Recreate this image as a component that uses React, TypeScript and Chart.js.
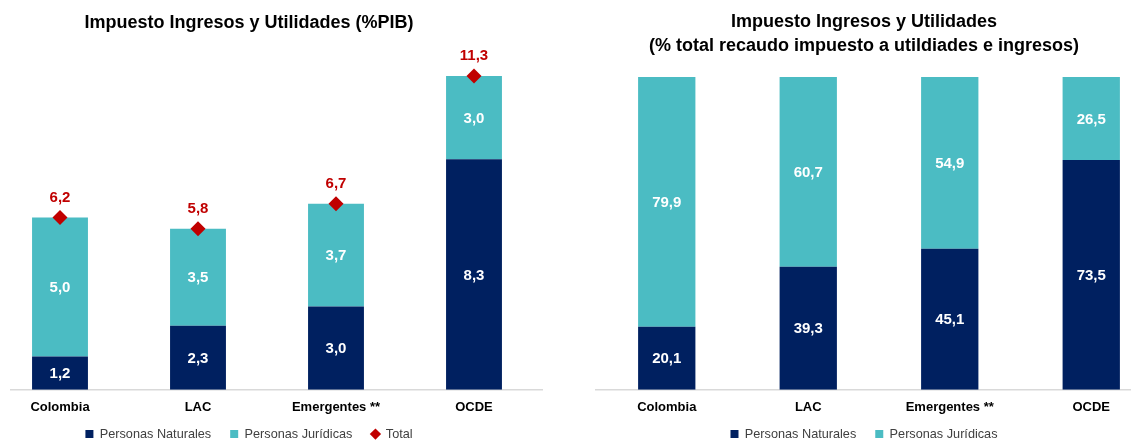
import React, { useEffect, useRef } from 'react';
import { Chart, registerables } from 'chart.js';

Chart.register(...registerables);

const categories = ['Colombia', 'LAC', 'Emergentes **', 'OCDE'];
const pibNaturales = [1.2, 2.3, 3.0, 8.3];
const pibJuridicas = [5.0, 3.5, 3.7, 3.0];
const pibTotal = [6.2, 5.8, 6.7, 11.3];
const shareNaturales = [20.1, 39.3, 45.1, 73.5];
const shareJuridicas = [79.9, 60.7, 54.9, 26.5];

const leftTitle = 'Impuesto Ingresos y Utilidades (%PIB)';
const rightTitle = ['Impuesto Ingresos y Utilidades', '(% total recaudo impuesto a utildiades e ingresos)'];
const legendNaturales = 'Personas Naturales';
const legendJuridicas = 'Personas Jurídicas';
const legendTotal = 'Total';

const NAVY = '#002060';
const TEAL = '#4bbcc3';
const RED = '#c00000';
const FONT = "'Liberation Sans', Arial, sans-serif";
const CANVAS_H = 467;
const LEGEND_SHIFT = 16.6;

const fmt = (v: number) => v.toFixed(1).replace('.', ',');

const labelPlugin = {
  id: 'valueLabels',
  afterLayout(chart: any) {
    const lg = chart.legend;
    if (lg) {
      lg.top -= LEGEND_SHIFT;
      lg.bottom -= LEGEND_SHIFT;
    }
  },
  afterDatasetsDraw(chart: any) {
    const ctx = chart.ctx;
    ctx.save();
    ctx.textAlign = 'center';
    ctx.textBaseline = 'middle';
    ctx.font = `bold 15px ${FONT}`;
    chart.data.datasets.forEach((ds: any, i: number) => {
      const meta = chart.getDatasetMeta(i);
      if (meta.hidden) return;
      meta.data.forEach((el: any, j: number) => {
        const v = ds.data[j] as number;
        if (meta.type === 'bar') {
          const p = el.getProps(['x', 'y', 'base'], true);
          ctx.fillStyle = '#ffffff';
          ctx.fillText(fmt(v), p.x, (p.y + p.base) / 2 + 1);
        } else {
          ctx.fillStyle = RED;
          ctx.fillText(fmt(v), el.x, el.y - 20);
        }
      });
    });
    ctx.restore();
  },
};

function barDataset(label: string, data: number[], color: string) {
  return {
    type: 'bar' as const,
    label,
    data,
    backgroundColor: color,
    borderWidth: 0,
    barPercentage: 0.405,
    categoryPercentage: 1,
    pointStyle: 'rect',
    order: 1,
  };
}

function makeConfig(datasets: any[], title: any, max: number, axisWidth: number, titlePad: any, titleLineHeight: number) {
  return {
    type: 'bar' as const,
    data: { labels: categories, datasets },
    plugins: [labelPlugin],
    options: {
      responsive: false,
      animation: false,
      devicePixelRatio: 1,
      events: [],
      layout: { padding: 0, autoPadding: false },
      plugins: {
        title: {
          display: true,
          text: title,
          color: '#000000',
          font: { family: FONT, size: 18, weight: 'bold', lineHeight: titleLineHeight },
          padding: titlePad,
        },
        legend: {
          display: true,
          position: 'bottom',
          labels: {
            usePointStyle: true,
            boxWidth: 8,
            boxHeight: 8,
            padding: 19,
            color: '#404040',
            font: { family: FONT, size: 12.7 },
            sort: (a: any, b: any) => a.datasetIndex - b.datasetIndex,
          },
        },
        tooltip: { enabled: false },
      },
      scales: {
        x: {
          stacked: true,
          grid: { display: false, drawTicks: false },
          border: { display: true, color: '#d9d9d9', width: 1.5 },
          ticks: {
            color: '#000000',
            font: { family: FONT, size: 13, weight: 'bold' },
            padding: 10,
            maxRotation: 0,
            autoSkip: false,
          },
        },
        y: {
          stacked: true,
          min: 0,
          max,
          display: true,
          grid: { display: false, drawTicks: false },
          border: { display: false },
          ticks: { display: false },
          afterFit: (s: any) => { s.width = axisWidth; },
        },
      },
    },
  };
}

export default function App() {
  const leftRef = useRef<HTMLCanvasElement>(null);
  const rightRef = useRef<HTMLCanvasElement>(null);

  useEffect(() => {
    const left = new Chart(leftRef.current as HTMLCanvasElement, makeConfig(
      [
        barDataset(legendNaturales, pibNaturales, NAVY),
        barDataset(legendJuridicas, pibJuridicas, TEAL),
        {
          type: 'line' as const,
          label: legendTotal,
          data: pibTotal,
          showLine: false,
          pointStyle: 'rectRot',
          pointRadius: 7.5,
          pointBorderWidth: 0,
          backgroundColor: RED,
          borderColor: RED,
          order: 0,
        },
      ],
      leftTitle, 12, 36, { top: 12.2, bottom: 22.7 }, 1.2,
    ) as any);
    const right = new Chart(rightRef.current as HTMLCanvasElement, makeConfig(
      [
        barDataset(legendNaturales, shareNaturales, NAVY),
        barDataset(legendJuridicas, shareJuridicas, TEAL),
      ],
      rightTitle, 105, 30, { top: 11, bottom: 4.3 }, 1.28,
    ) as any);
    return () => { left.destroy(); right.destroy(); };
  }, []);

  return (
    <div style={{ position: 'absolute', left: 0, top: 0, width: 1131, height: 441, overflow: 'hidden', background: '#ffffff' }}>
      <div style={{ position: 'absolute', left: 10, top: 0, width: 533, height: 441, overflow: 'hidden' }}>
        <canvas ref={leftRef} width={588} height={CANVAS_H} style={{ position: 'absolute', left: -55, top: 0, width: 588, height: CANVAS_H }} />
      </div>
      <canvas ref={rightRef} width={596} height={CANVAS_H} style={{ position: 'absolute', left: 566, top: 0, width: 596, height: CANVAS_H }} />
    </div>
  );
}
